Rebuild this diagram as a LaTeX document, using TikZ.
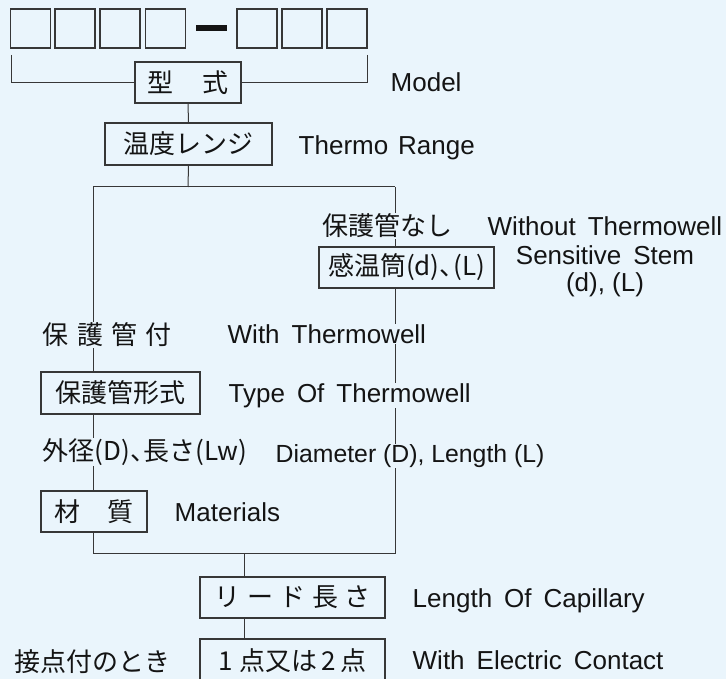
\documentclass[tikz,border=0pt]{standalone}
\usepackage{fontspec}
\setmainfont{Noto Sans CJK JP}
\newfontfamily\enw{Liberation Sans}
\newfontfamily\enn{Liberation Sans}
\usetikzlibrary{backgrounds}
\definecolor{bg}{RGB}{234,245,252}
\definecolor{ln}{RGB}{55,55,55}
\definecolor{tx}{RGB}{20,20,20}
\newcommand{\tou}{\makebox[0.52em][l]{、}}
\newcommand{\wsp}{\hspace{0.46em}}
\begin{document}
\begin{tikzpicture}[x=1pt,y=-1pt,
  jpf/.style={font=\fontsize{26}{30}\selectfont},
  cell/.style={draw=ln, line width=1.6pt, minimum width=40pt, minimum height=38.5pt, inner sep=0pt},
  box/.style={draw=ln, line width=1.1pt, fill=bg, inner sep=0pt, text=tx, jpf},
  jlbl/.style={fill=bg, inner sep=0.5pt, text=tx, anchor=west, jpf},
  elbl/.style={fill=bg, inner sep=0.5pt, text=tx, anchor=base west, font=\enw\fontsize{26}{27}\selectfont},
  enlbl/.style={fill=bg, inner sep=0.5pt, text=tx, anchor=base west, font=\enn\fontsize{24.8}{27}\selectfont},
  conn/.style={draw=ln, line width=1pt}]
\useasboundingbox (0,0) rectangle (726,679);
\clip (0,0) rectangle (726,679);
% code cells
\node[cell] (c1) at (30.5,28.5) {};
\node[cell] (c2) at (75,28.5) {};
\node[cell] (c3) at (120,28.5) {};
\node[cell] (c4) at (165.5,28.5) {};
\fill[tx] (196,25) rectangle (227,30.8);
\node[cell] (c5) at (257,28.5) {};
\node[cell] (c6) at (302,28.5) {};
\node[cell] (c7) at (347,28.5) {};
% boxes
\node[box, minimum width=106pt, minimum height=41pt] (model) at (188,82.5) {型\hspace{1.15em}式};
\node[box, minimum width=167pt, minimum height=42pt] (range) at (188.5,144) {温度レンジ};
\node[box, minimum width=175pt, minimum height=41pt] (stem) at (406.5,267.5) {感温筒(d)\tou(L)};
\node[box, minimum width=159pt, minimum height=42pt] (type) at (120.5,393) {保護管形式};
\node[box, minimum width=106pt, minimum height=41pt] (mat) at (94,511.5) {材\hspace{1.05em}質};
\node[box, minimum width=185pt, minimum height=41pt] (lead) at (292.5,597.5) {リ\hspace{0.25em}ー\hspace{0.25em}ド\hspace{0.25em}長\hspace{0.25em}さ};
\node[box, minimum width=185pt, minimum height=44pt] (contact) at (292.5,661) {1\hspace{0.25em}点又は\hspace{0.15em}2\hspace{0.2em}点};
% labels
\node[elbl] (lmodel) at (390,92) {Model};
\node[elbl] (lrange) at (298,155) {Thermo\hspace{0.38em}Range};
\node[jlbl] (jwo) at (322,226) {保護管なし};
\node[elbl] (lwo) at (487,236) {Without\wsp Thermowell};
\node[fill=bg, inner sep=0.5pt, text=tx, align=center, font=\enw\fontsize{26}{27}\selectfont] (lstem) at (605,271.5) {Sensitive\wsp Stem\\(d), (L)};
\node[jlbl] (jwith) at (42,335) {保\hspace{0.32em}護\hspace{0.32em}管\hspace{0.32em}付};
\node[elbl] (lwith) at (227,343) {With\wsp Thermowell};
\node[elbl] (ltype) at (228,402) {Type\wsp Of\wsp Thermowell};
\node[jlbl] (jdim) at (42,452) {外径(D)\tou 長さ(Lw)};
\node[enlbl] (ldim) at (275,462) {Diameter (D), Length (L)};
\node[elbl] (lmat) at (174,521) {Materials};
\node[elbl] (llead) at (412,607) {Length\wsp Of\wsp Capillary};
\node[jlbl] (jcon) at (14,662) {接点付のとき};
\node[elbl] (lcon) at (412,669) {With\wsp Electric\wsp Contact};
% connectors
\coordinate (bl) at (11,55);
\coordinate (br) at (367,55);
\coordinate (split) at (188,187);
\coordinate (lt) at (93,187);
\coordinate (rt) at (395,187);
\coordinate (lb) at (93,553);
\coordinate (rb) at (395,553);
\coordinate (join) at (244,553);
\begin{scope}[on background layer]
\fill[bg] (0,0) rectangle (726,679);
\draw[conn] (bl) |- (model.west);
\draw[conn] (br) |- (model.east);
\draw[conn] (model.south) -- (range.north);
\draw[conn] (range.south) -- (split);
\draw[conn] (lt) -- (rt);
\draw[conn] (lt) -- (lt |- mat.north);
\draw[conn] (rt) -- (rt |- stem.north);
\draw[conn] (lt |- mat.south) -- (lb) -- (rb) -- (rt |- stem.south);
\draw[conn] (join) -- (join |- lead.north);
\draw[conn] (join |- lead.south) -- (join |- contact.north);
\end{scope}
\end{tikzpicture}
\end{document}
